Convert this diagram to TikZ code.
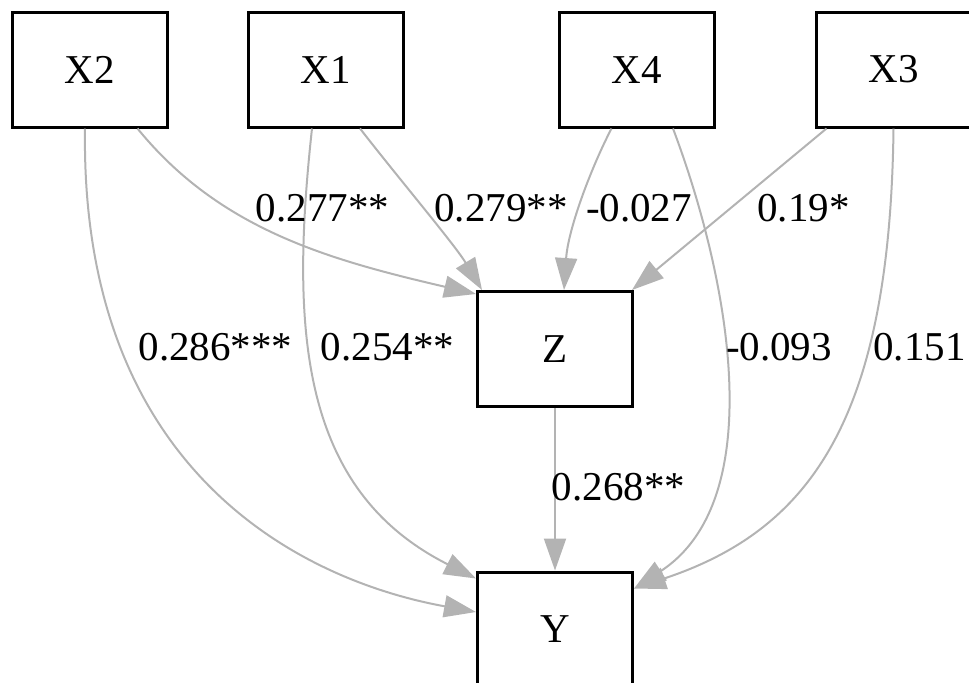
\documentclass[tikz,border=0pt]{standalone}
\usepackage{fontspec}
\setmainfont{Liberation Serif}
\usetikzlibrary{arrows.meta, calc}
\definecolor{edgegray}{HTML}{B3B3B3}

\begin{document}
\begin{tikzpicture}[x=0.5pt, y=-0.5pt, >={Triangle[length=16pt,width=11pt]},
  var/.style={draw, line width=1.5pt, minimum width=77.5pt, minimum height=57.5pt,
    inner sep=0pt, font=\fontsize{20.5}{24}\selectfont},
  eff/.style={->, draw=edgegray, line width=1pt},
  coef/.style={inner sep=0pt, font=\fontsize{20.5}{24}\selectfont}]
  \useasboundingbox (0,0) rectangle (969,682);
  % variables
  \node[var] (X2) at (89.5,69.5) {X2};
  \node[var] (X1) at (326,69.5) {X1};
  \node[var] (X4) at (636.5,69.5) {X4};
  \node[var] (X3) at (893.5,69.5) {X3};
  \node[var] (Z) at (555,349) {Z};
  \node[var] (Y) at (555,629.5) {Y};
  % paths to Z
  \draw[eff] ($(X2.south)+(48,0)$) .. controls (220,230) and (330,260) .. ($(Z.north west)+(0,4)$);
  \draw[eff] ($(X1.south)+(34,0)$) .. controls (400,180) and (455,245) .. ($(Z.north west)+(6,0)$);
  \draw[eff] ($(X4.south)+(-25,0)$) .. controls (590,170) and (568,230) .. ($(Z.north)+(9,0)$);
  \draw[eff] ($(X3.south west)+(12,0)$) -- ($(Z.north east)+(-2,0)$);
  % paths to Y
  \draw[eff] ($(X2.south)+(-4.5,0)$) .. controls (80,470) and (300,580) .. ($(Y.west)+(0,-17.5)$);
  \draw[eff] ($(X1.south)+(-14,0)$) .. controls (290,330) and (300,490) .. ($(Y.north west)+(0,8)$);
  \draw[eff] ($(X4.south)+(36.5,0)$) .. controls (730,280) and (770,500) .. ($(Y.north east)+(0,18)$);
  \draw[eff] (X3.south) .. controls (890,420) and (810,530) .. ($(Y.north east)+(0,18)$);
  \draw[eff] (Z) -- (Y);
  % coefficients
  \node[coef] (c21) at (322.5,208.5) {0.277**};
  \node[coef] (c11) at (501,208.5) {0.279**};
  \node[coef] (c41) at (639,208.5) {-0.027};
  \node[coef] (c31) at (803.5,208.5) {0.19*};
  \node[coef] (c22) at (215.5,347) {0.286***};
  \node[coef] (c12) at (387.5,347) {0.254**};
  \node[coef] (c42) at (779,347) {-0.093};
  \node[coef] (c32) at (919.5,347) {0.151};
  \node[coef] (cz) at (618.5,487.5) {0.268**};
\end{tikzpicture}
\end{document}
